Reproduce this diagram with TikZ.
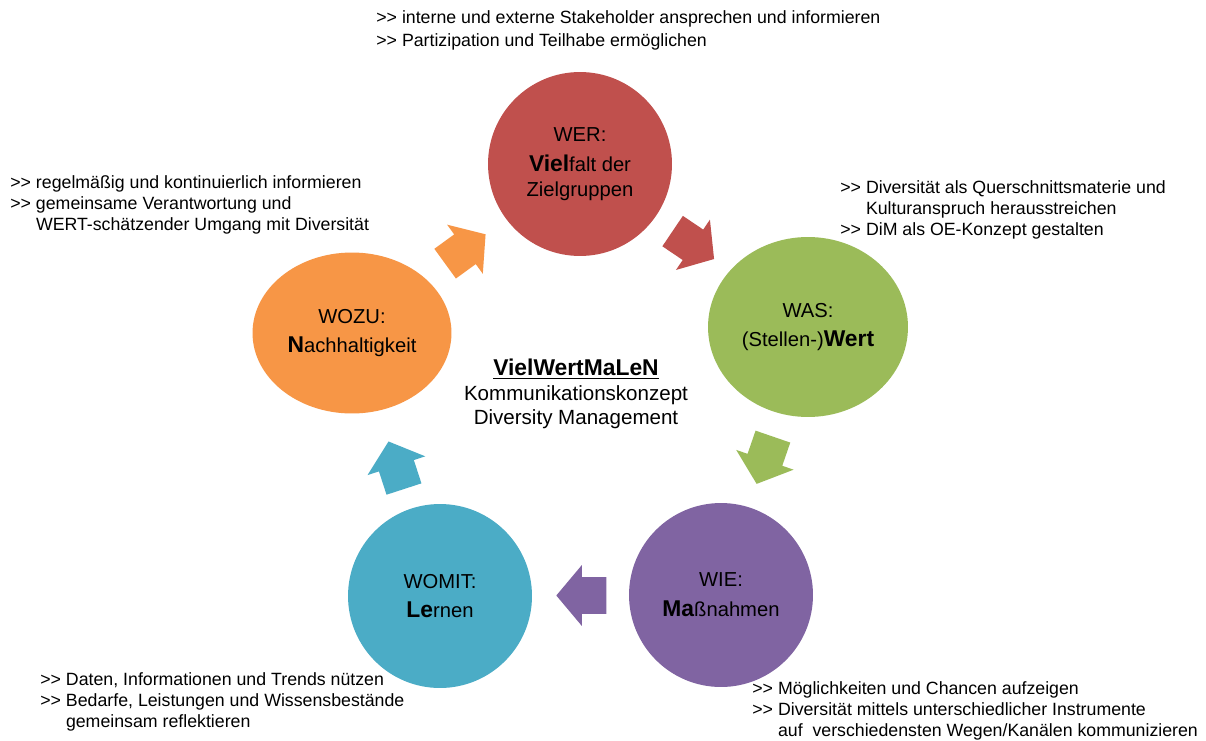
\documentclass[tikz,border=0pt]{standalone}
\usepackage{fontspec}
\setmainfont{Liberation Sans}
\usetikzlibrary{shapes.geometric,shapes.arrows,calc}

\definecolor{werred}{HTML}{C0504D}
\definecolor{wasgreen}{HTML}{9BBB59}
\definecolor{wiepurple}{HTML}{8064A2}
\definecolor{womitblue}{HTML}{4BACC6}
\definecolor{wozuorange}{HTML}{F79646}

\newcommand{\kw}[1]{{\fontsize{13}{14}\selectfont\bfseries #1}}
\newcommand{\bul}{>{}>\ }
\newcommand{\hang}{\phantom{>{}>}\ }

\tikzset{
  bubble/.style={circle, minimum size=3.68cm, inner sep=0pt, align=center,
    font=\fontsize{11.5}{14}\selectfont},
  oval/.style={ellipse, inner sep=0pt, align=center,
    font=\fontsize{11.5}{14}\selectfont},
  turn/.style={single arrow, minimum height=1.0cm, inner xsep=0pt, inner ysep=0.36cm,
    single arrow head extend=0.24cm, single arrow tip angle=100, xshift=-0.17cm},
  note/.style={anchor=north west, inner sep=0pt, align=left,
    font=\fontsize{10.1}{12}\selectfont}
}

\begin{document}
\begin{tikzpicture}[x=0.02cm, y=-0.02cm]
\useasboundingbox [fill=white] (0,0) rectangle (1206,740);

% circles
\node[bubble, fill=werred]    (wer)   at (580,164) {WER:\\[3pt]\kw{Viel}falt der\\Zielgruppen};
\node[oval, fill=wasgreen, minimum width=4.0cm, minimum height=3.6cm] (was) at (808,327) {WAS:\\[3pt](Stellen-)\kw{Wert}};
\node[bubble, fill=wiepurple] (wie)   at (721,595) {WIE:\\[3pt]\kw{Ma}ßnahmen};
\node[bubble, fill=womitblue] (womit) at (440,596) {WOMIT:\\[3pt]\kw{Le}rnen};
\node[oval, fill=wozuorange, minimum width=3.98cm, minimum height=3.22cm] (wozu) at (352,333) {WOZU:\\[3pt]\kw{N}achhaltigkeit};

% block arrows between the circles
\node[rotate=-34,  turn, fill=werred]     at ($(wer)!0.5!(was)$)     {};
\node[rotate=-109, turn, fill=wasgreen]   at ($(was)!0.5!(wie)$)     {};
\node[rotate=180,  turn, fill=wiepurple]  at ($(wie)!0.5!(womit)$)   {};
\node[rotate=108,  turn, fill=womitblue]  at ($(womit)!0.5!(wozu)$)  {};
\node[rotate=36,   turn, fill=wozuorange] at ($(wozu)!0.5!(wer)$)    {};

% title
\node[align=center, font=\fontsize{11.7}{14}\selectfont] (title) at (576,394)
  {\underline{\fontsize{13}{14}\selectfont\textbf{VielWertMaLeN}}\\Kommunikationskonzept\\Diversity Management};

% notes
\node[note, font=\fontsize{10.1}{13}\selectfont] (notewer) at (376,10)
  {\bul interne und externe Stakeholder ansprechen und informieren\\
   \bul Partizipation und Teilhabe ermöglichen};
\node[note] (notewas) at (840,180)
  {\bul Diversität als Querschnittsmaterie und\\
   \hang Kulturanspruch herausstreichen\\
   \bul DiM als OE-Konzept gestalten};
\node[note] (notewie) at (752,681)
  {\bul Möglichkeiten und Chancen aufzeigen\\
   \bul Diversität mittels unterschiedlicher Instrumente\\
   \hang auf\ \ verschiedensten Wegen/Kanälen kommunizieren};
\node[note] (notewomit) at (40,672)
  {\bul Daten, Informationen und Trends nützen\\
   \bul Bedarfe, Leistungen und Wissensbestände\\
   \hang gemeinsam reflektieren};
\node[note] (notewozu) at (10,175)
  {\bul regelmäßig und kontinuierlich informieren\\
   \bul gemeinsame Verantwortung und\\
   \hang WERT-schätzender Umgang mit Diversität};
\end{tikzpicture}
\end{document}
